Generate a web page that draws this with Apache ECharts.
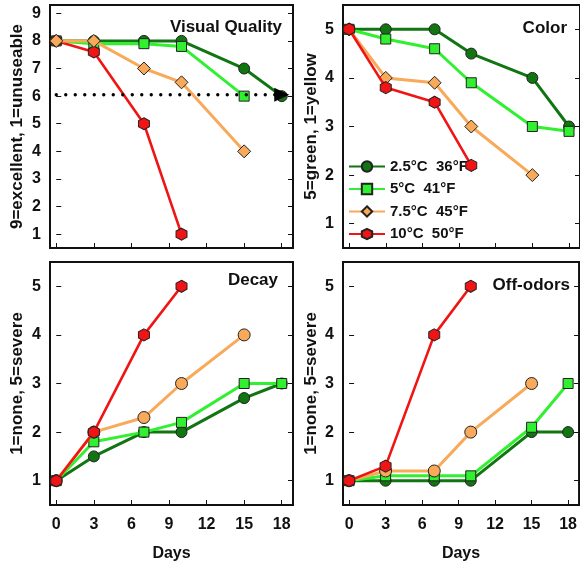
<!DOCTYPE html>
<html><head><meta charset="utf-8">
<script src="https://cdn.jsdelivr.net/npm/echarts@6/dist/echarts.min.js"></script>
<style>html,body{margin:0;padding:0;background:#fff}#c{width:580px;height:567px}</style>
</head><body><div id="c"></div>
<script>
const days = [0, 3, 7, 10, 15, 18];
const dayTicks = [0, 3, 6, 9, 12, 15, 18];
const names = ['2.5°C  36°F', '5°C  41°F', '7.5°C  45°F', '10°C  50°F'];
const panelTitles = ['Visual Quality', 'Color', 'Decay', 'Off-odors'];
const yNames = ['9=excellent, 1=unuseable', '5=green, 1=yellow', '1=none, 5=severe', '1=none, 5=severe'];
const vqTicks = [1, 2, 3, 4, 5, 6, 7, 8, 9];
const fiveTicks = [1, 2, 3, 4, 5];

// Visual Quality
const vq25 = [8, 8, 8, 8, 7, 6];
const vq5 = [8, 7.9, 7.9, 7.8, 6];
const vq75 = [8, 8, 7, 6.5, 4];
const vq10 = [8, 7.6, 5, 1];
const vqLimit = 6.05;
const vqLimitDays = [0, 18];
// Color
const col25 = [5, 5, 5, 4.5, 4, 3];
const col5 = [5, 4.8, 4.6, 3.9, 3, 2.9];
const col75 = [5, 4, 3.9, 3, 2];
const col10 = [5, 3.8, 3.5, 2.2];
// Decay
const dec25 = [1, 1.5, 2, 2, 2.7, 3];
const dec5 = [1, 1.8, 2, 2.2, 3, 3];
const dec75 = [1, 2, 2.3, 3, 4];
const dec10 = [1, 2, 4, 5];
// Off-odors
const odo25 = [1, 1, 1, 1, 2, 2];
const odo5 = [1, 1.1, 1.1, 1.1, 2.1, 3];
const odo75 = [1, 1.2, 1.2, 2, 3];
const odo10 = [1, 1.3, 4, 5];

const FONT = "'Liberation Sans', Arial, sans-serif";
const colors = ['#117511', '#30f030', '#f9a95a', '#f01414'];
const hexagon = 'path://M0,-1L0.866,-0.5L0.866,0.5L0,1L-0.866,0.5L-0.866,-0.5Z';
const symbols = ['circle', 'rect', 'diamond', hexagon];
const sizes = [11, 10, 13, [11, 12]];

const grids = [
  {left: 50, top: 5, width: 243, height: 243},
  {left: 343, top: 5, width: 243, height: 243},
  {left: 50, top: 262, width: 243, height: 243},
  {left: 343, top: 262, width: 243, height: 243}
];
const option = {
  animation: false,
  textStyle: {fontFamily: FONT},
  grid: grids.map(g => Object.assign({show: true, borderColor: '#111', borderWidth: 2, backgroundColor: 'transparent'}, g)),
  title: [
    {text: panelTitles[0], right: 293, top: 14},
    {text: panelTitles[1], right: 8, top: 15},
    {text: panelTitles[2], right: 297, top: 267},
    {text: panelTitles[3], right: 5, top: 272}
  ].map(t => Object.assign(t, {textStyle: {fontFamily: FONT, fontSize: 17, fontWeight: 'bold', color: '#111'}})),
  legend: {
    orient: 'vertical', left: 343, top: 154, itemWidth: 36, itemHeight: 13, itemGap: 7.5,
    data: names,
    textStyle: {fontFamily: FONT, fontSize: 15, fontWeight: 'bold', color: '#111'}
  },
  xAxis: [0, 1, 2, 3].map(i => ({
    type: 'value', gridIndex: i, min: -0.5, max: 18.9,
    splitLine: {show: false}, axisLine: {show: false},
    axisTick: {inside: true, length: 5, lineStyle: {color: '#111', width: 1}, customValues: dayTicks},
    axisLabel: {show: i >= 2, customValues: dayTicks, margin: 12, fontFamily: FONT, fontSize: 16, fontWeight: 'bold', color: '#111'},
    name: i >= 2 ? 'Days' : '', nameLocation: 'middle', nameGap: 41,
    nameTextStyle: {fontFamily: FONT, fontSize: 16, fontWeight: 'bold', color: '#111'}
  })),
  yAxis: [],
  series: []
};
[0, 1, 2, 3].forEach(i => {
  const ticks = i === 0 ? vqTicks : fiveTicks;
  const mn = 0.5, mx = i === 0 ? 9.3 : 5.5;
  option.yAxis.push({
    type: 'value', gridIndex: i, min: mn, max: mx, position: 'left',
    splitLine: {show: false}, axisLine: {show: false},
    axisTick: {inside: true, length: 5, lineStyle: {color: '#111', width: 1}, customValues: ticks},
    axisLabel: {customValues: ticks, margin: 9, fontFamily: FONT, fontSize: 16, fontWeight: 'bold', color: '#111'},
    name: yNames[i], nameLocation: 'middle', nameGap: i % 2 === 0 ? 24 : 23, nameRotate: 90,
    nameTextStyle: {fontFamily: FONT, fontSize: 17, fontWeight: 'bold', color: '#111'}
  });
  option.yAxis.push({
    type: 'value', gridIndex: i, min: mn, max: mx, position: 'right',
    splitLine: {show: false}, axisLine: {show: false},
    axisTick: {inside: true, length: 5, lineStyle: {color: '#111', width: 1}, customValues: ticks},
    axisLabel: {show: false}
  });
});

// threshold dotted line in Visual Quality panel
option.series.push({
  type: 'line', xAxisIndex: 0, yAxisIndex: 0, name: 'limit',
  data: vqLimitDays.map(d => [d, vqLimit]),
  lineStyle: {color: '#000', width: 3.4, type: [0, 9.5], cap: 'round'},
  symbol: function (v, params) { return params.dataIndex === 1 ? 'triangle' : 'none'; },
  showSymbol: true, symbolSize: [14, 15], symbolRotate: -90,
  itemStyle: {color: '#000'}, z: 20
});

const panelData = [
  [vq25, vq5, vq75, vq10],
  [col25, col5, col75, col10],
  [dec25, dec5, dec75, dec10],
  [odo25, odo5, odo75, odo10]
];
panelData.forEach((sets, p) => {
  const order = p === 0 ? [0, 1, 3, 2] : [0, 1, 2, 3];
  order.forEach((k, zi) => {
    const vals = sets[k];
    const sym = (p >= 2 && k === 2) ? 'circle' : symbols[k];
    const sz = (p >= 2 && k === 2) ? 12 : sizes[k];
    option.series.push({
      type: 'line', name: names[k], xAxisIndex: p, yAxisIndex: p * 2,
      data: vals.map((v, j) => [days[j], v]),
      symbol: sym, symbolSize: sz, showAllSymbol: true,
      lineStyle: {color: colors[k], width: k === 3 ? 2.6 : 3},
      itemStyle: {color: colors[k], borderColor: '#222', borderWidth: 1},
      z: 3 + zi
    });
  });
});
const chart = echarts.init(document.getElementById('c'), null, {renderer: 'canvas'});
chart.setOption(option);
</script></body></html>
